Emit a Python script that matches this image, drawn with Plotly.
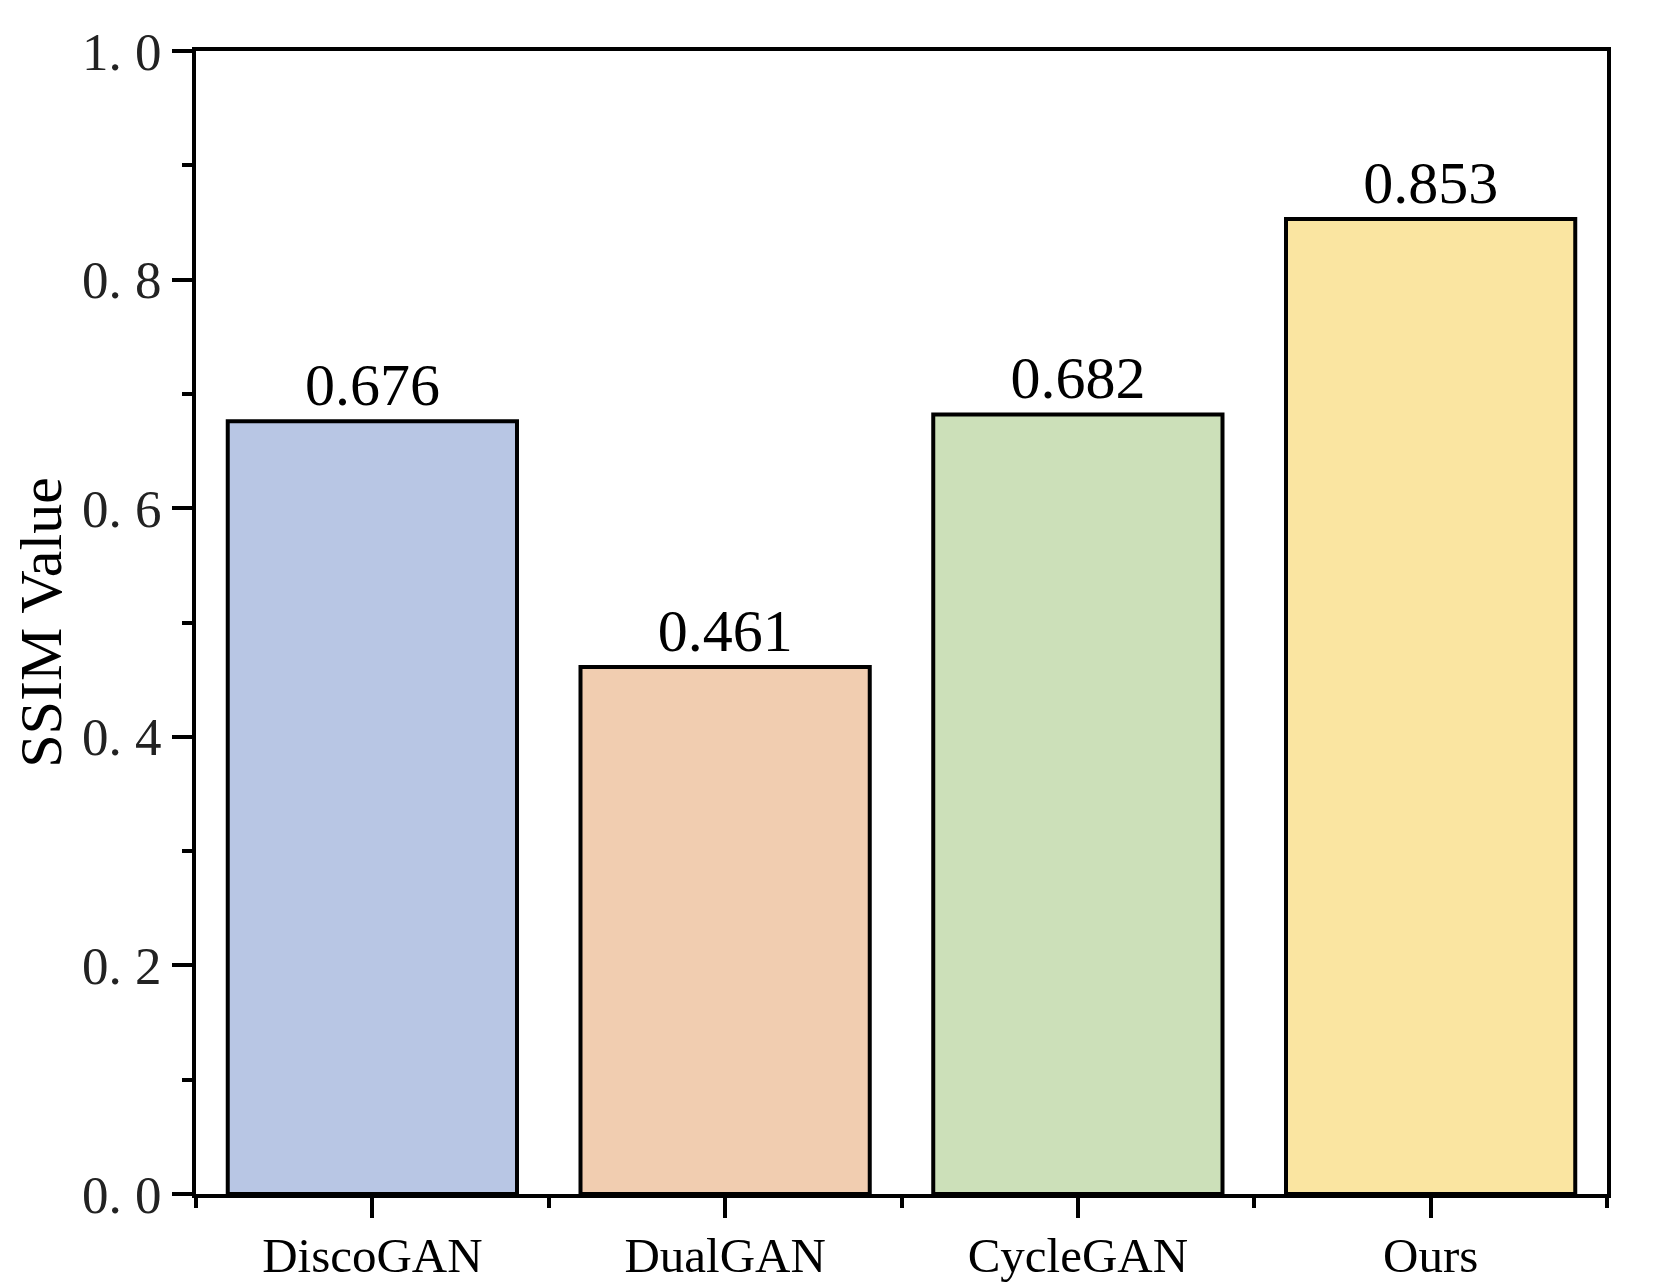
import plotly.graph_objects as go

categories = ["DiscoGAN", "DualGAN", "CycleGAN", "Ours"]
ssim_values = [0.676, 0.461, 0.682, 0.853]
bar_colors = ["#B8C6E4", "#F1CDB0", "#CCE0B9", "#FAE5A1"]
y_tick_values = [0.0, 0.2, 0.4, 0.6, 0.8, 1.0]
y_tick_labels = ["0. 0", "0. 2", "0. 4", "0. 6", "0. 8", "1. 0"]

x_pos = list(range(len(categories)))

fig = go.Figure()
fig.add_trace(go.Bar(
    x=x_pos,
    y=ssim_values,
    width=0.82,
    marker=dict(color=bar_colors, line=dict(color="black", width=4)),
    text=[f"{v:.3f}" for v in ssim_values],
    textposition="outside",
    textfont=dict(family="Liberation Serif", size=60, color="black"),
    cliponaxis=False,
    showlegend=False,
))

fig.update_layout(
    width=1664, height=1288,
    margin=dict(l=188, r=65, t=43, b=102),
    paper_bgcolor="white", plot_bgcolor="white",
    font=dict(family="Liberation Serif", color="black"),
)

fig.update_xaxes(
    range=[-0.5, len(categories) - 0.5],
    tickmode="array", tickvals=x_pos, ticktext=categories,
    ticks="outside", ticklen=20, tickwidth=3.5, tickcolor="black",
    tickfont=dict(family="Liberation Serif", size=49, color="black"),
    ticklabelstandoff=-5,
    showline=True, linewidth=4, linecolor="black", mirror=True,
    showgrid=False, zeroline=False,
    minor=dict(tickmode="array", tickvals=[p - 0.5 for p in x_pos] + [len(categories) - 0.5],
               ticks="outside", ticklen=10, tickwidth=3.5, tickcolor="black", showgrid=False),
)

fig.update_yaxes(
    range=[0, 1.0],
    tickmode="array", tickvals=y_tick_values, ticktext=y_tick_labels,
    ticks="outside", ticklen=20, tickwidth=3.5, tickcolor="black",
    tickfont=dict(family="Liberation Serif", size=53, color="#222222"),
    showline=True, linewidth=4, linecolor="black", mirror=True,
    showgrid=False, zeroline=False,
    minor=dict(dtick=0.1, tick0=0, ticks="outside", ticklen=10, tickwidth=3.5,
               tickcolor="black", showgrid=False),
    title=dict(text="SSIM Value", font=dict(family="Liberation Serif", size=60, color="black"),
               standoff=18),
)

fig.write_html("out.html")
